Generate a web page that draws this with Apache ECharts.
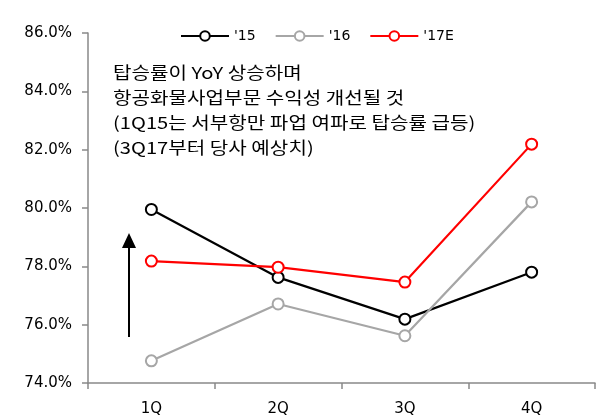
<!DOCTYPE html>
<html><head><meta charset="utf-8">
<script src="https://cdn.jsdelivr.net/npm/echarts@6/dist/echarts.min.js"></script>
<style>html,body{margin:0;padding:0;background:#fff}#c{width:600px;height:418px}</style>
</head><body><div id="c"></div>
<script>
const categories = ['1Q','2Q','3Q','4Q'];
const s15 = [79.95, 77.62, 76.19, 77.80];
const s16 = [74.76, 76.71, 75.62, 80.21];
const s17 = [78.18, 77.97, 77.46, 82.19];
const seriesNames = ["'15", "'16", "'17E"];
const seriesColors = ['#000000', '#a6a6a6', '#ff0000'];
const noteLines = ['탑승률이 YoY 상승하며','항공화물사업부문 수익성 개선될 것','(1Q15는 서부항만 파업 여파로 탑승률 급등)','(3Q17부터 당사 예상치)'];
const FONT = '"Noto Sans CJK KR", "DejaVu Sans", sans-serif';
const LFONT = 'DejaVu Sans';

const chart = echarts.init(document.getElementById('c'), null, {renderer:'canvas'});
const mk = (name, data, color) => ({
  name, type:'line', data, symbol:'circle', symbolSize:11,
  lineStyle:{color, width:2.2}, itemStyle:{color:'#fff', borderColor:color, borderWidth:2},
  emphasis:{disabled:true}, animation:false, z:3
});
chart.setOption({
  animation:false,
  textStyle:{fontFamily:LFONT},
  grid:{left:88, right:5, top:33, bottom:35},
  legend:{
    top:24, left:175, itemWidth:48, itemHeight:12, itemGap:19,
    textStyle:{fontSize:14, color:'#000', fontFamily:LFONT},
    data:seriesNames
  },
  xAxis:{
    type:'category', data:categories, boundaryGap:true,
    axisLine:{lineStyle:{color:'#898989', width:1.5}},
    axisTick:{show:true, length:6, lineStyle:{color:'#898989', width:1.5}},
    axisLabel:{fontSize:15, color:'#000', margin:19, fontFamily:LFONT}
  },
  yAxis:{
    type:'value', min:74, max:86, interval:2,
    axisLine:{show:true, lineStyle:{color:'#898989', width:1.5}},
    axisTick:{show:true, length:6, lineStyle:{color:'#898989', width:1.5}},
    splitLine:{show:false},
    axisLabel:{fontSize:15, color:'#000', margin:16, fontFamily:LFONT,
      formatter:v=>v.toFixed(1)+'%'}
  },
  series:[mk(seriesNames[0], s15, seriesColors[0]), mk(seriesNames[1], s16, seriesColors[1]), mk(seriesNames[2], s17, seriesColors[2])],
  graphic:[
    {type:'text', x:113, y:60, scaleX:1.22, originX:0, originY:0,
      style:{text:noteLines.join('\n'), font:'16.5px '+FONT, lineHeight:25.2, fill:'#000', verticalAlign:'top', align:'left'}},
    {type:'line', shape:{x1:129, y1:337, x2:129, y2:246}, style:{stroke:'#000', lineWidth:2}},
    {type:'polygon', shape:{points:[[122,248],[136,248],[129,233]]}, style:{fill:'#000'}}
  ]
});
</script></body></html>
